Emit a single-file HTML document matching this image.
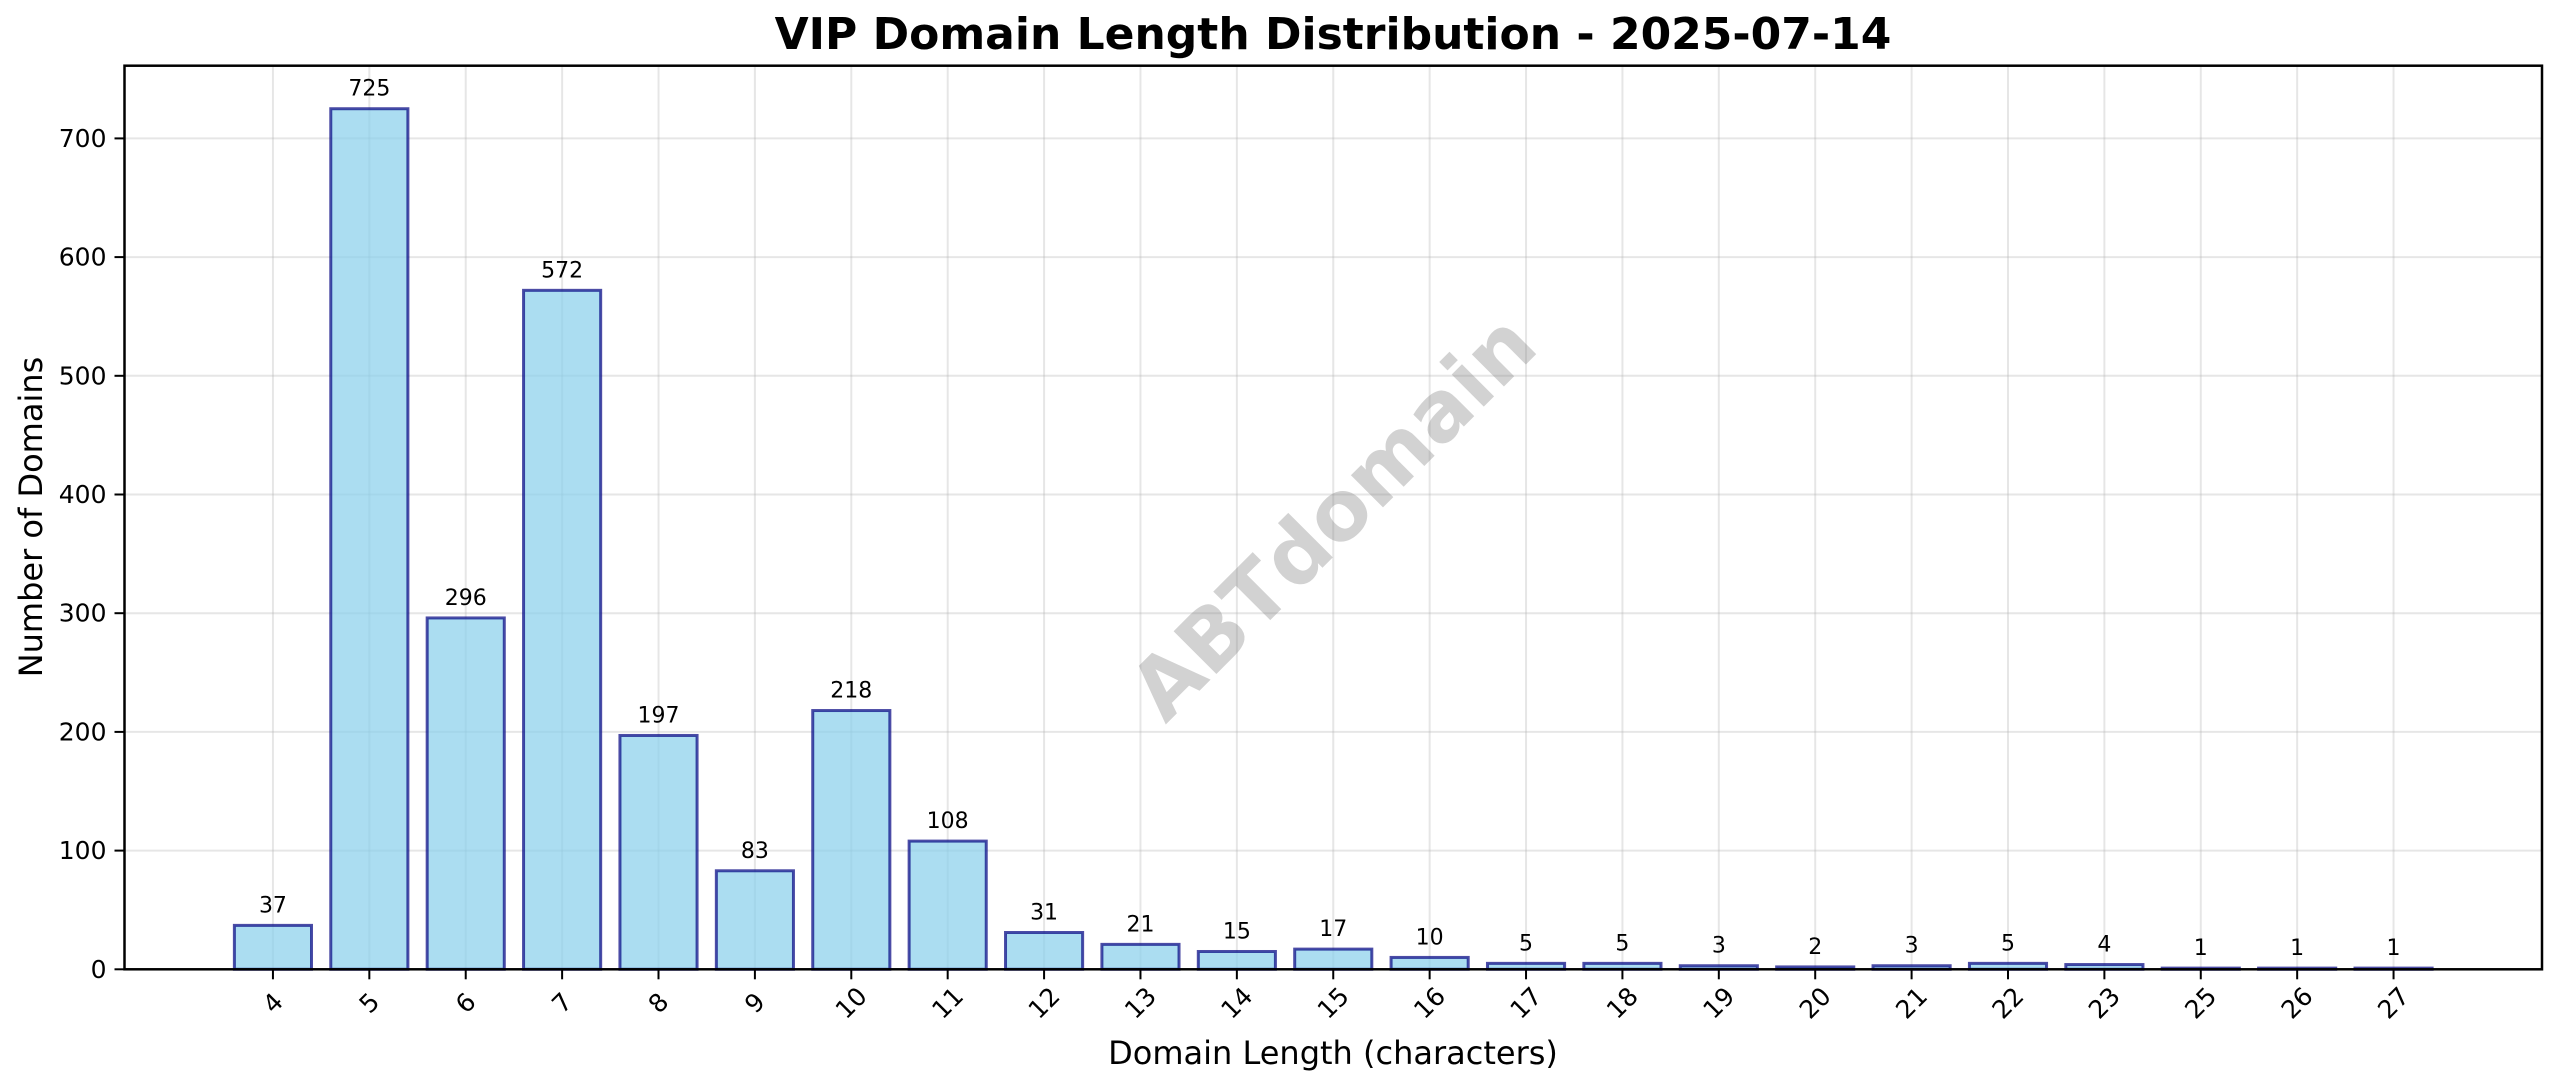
<!DOCTYPE html>
<html><head><meta charset="utf-8"><style>
html,body{margin:0;padding:0;background:#fff;}
svg{display:block;font-family:"DejaVu Sans","Liberation Sans",sans-serif;}
</style></head><body>
<svg id="chart" width="2560" height="1087" viewBox="0 0 2560 1087" xmlns="http://www.w3.org/2000/svg">
<rect width="2560" height="1087" fill="#fff"/>
<text x="1333" y="49" text-anchor="middle" font-size="44" font-weight="bold" fill="#000">VIP Domain Length Distribution - 2025-07-14</text>
<g id="grid"></g>
<text x="1333" y="517" text-anchor="middle" dominant-baseline="central" font-size="83" font-weight="bold" fill="#808080" opacity="0.35" transform="rotate(-45 1333 517)">ABTdomain</text>
<g id="bars"></g>
<g id="labels"></g>
<g id="axes"></g>
<text x="1333" y="1064" text-anchor="middle" font-size="32" fill="#000">Domain Length (characters)</text>
<text x="42" y="517" text-anchor="middle" font-size="32" fill="#000" transform="rotate(-90 42 517)">Number of Domains</text>
</svg>
<script>
const categories = ["4","5","6","7","8","9","10","11","12","13","14","15","16","17","18","19","20","21","22","23","25","26","27"];
const counts = [37,725,296,572,197,83,218,108,31,21,15,17,10,5,5,3,2,3,5,4,1,1,1];
const yTicks = [0,100,200,300,400,500,600,700];

const L=124.5, R=2542, T=65.7, B=969.3;
const xMin=-1.54, xMax=categories.length-1+1.54;
const yMax=Math.max(...counts)*1.05;
const xs=i=>L+(i-xMin)/(xMax-xMin)*(R-L);
const ys=v=>B-v/yMax*(B-T);
const bw=0.8*(xs(1)-xs(0));
const NS="http://www.w3.org/2000/svg";
function mk(tag,attrs,parent,txt){const e=document.createElementNS(NS,tag);for(const k in attrs)e.setAttribute(k,attrs[k]);if(txt!==undefined)e.textContent=txt;parent.appendChild(e);return e;}
const grid=document.getElementById('grid'),bars=document.getElementById('bars'),labels=document.getElementById('labels'),axes=document.getElementById('axes');

yTicks.forEach(t=>{
  const y=ys(t);
  const g=mk('line',{x1:L,x2:R,y1:y,y2:y,stroke:'#b0b0b0','stroke-width':2,opacity:0.3},grid);
  
  
  const tk=mk('line',{x1:L-10,x2:L,y1:y,y2:y,stroke:'#000','stroke-width':2},axes);
  
  
  const tl=mk('text',{x:L-18,y:y,'text-anchor':'end','dominant-baseline':'central','font-size':25,fill:'#000'},axes,String(t));
  
  
});

categories.forEach((c,i)=>{
  const x=xs(i);
  const g=mk('line',{x1:x,x2:x,y1:T,y2:B,stroke:'#b0b0b0','stroke-width':2,opacity:0.3},grid);
  
  
  const v=counts[i];
  const r=mk('rect',{x:x-bw/2,y:ys(v),width:bw,height:B-ys(v),fill:'#87CEEB','fill-opacity':0.7,stroke:'#000080','stroke-opacity':0.7,'stroke-width':3},bars);
  
  
  const lb=mk('text',{x:x,y:ys(v)-13,'text-anchor':'middle','font-size':22,fill:'#000'},labels,String(v));
  
  
  const tk=mk('line',{x1:x,x2:x,y1:B,y2:B+10,stroke:'#000','stroke-width':2},axes);
  
  
  const ty=1003;
  const tl=mk('text',{x:x,y:ty,'text-anchor':'middle','dominant-baseline':'central','font-size':25,fill:'#000',transform:`rotate(-45 ${x} ${ty})`},axes,c);
  
  
});

const frame=mk('rect',{x:L,y:T,width:R-L,height:B-T,fill:'none',stroke:'#000','stroke-width':2.5},axes);


</script>
</body></html>
